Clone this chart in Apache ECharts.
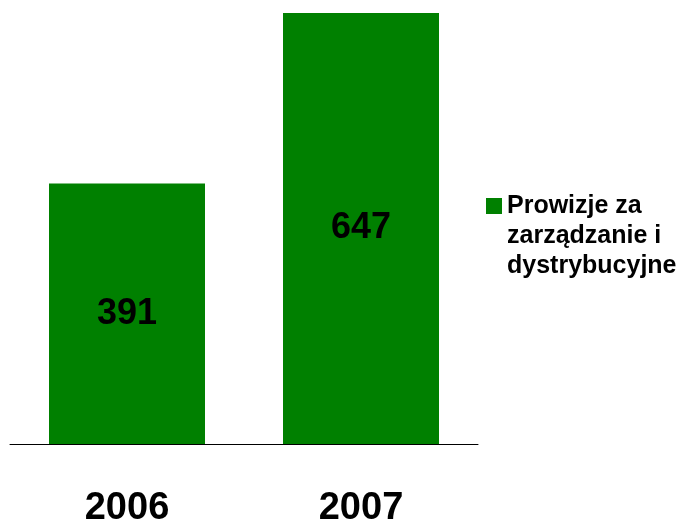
<!DOCTYPE html>
<html>
<head>
<meta charset="utf-8">
<script src="https://cdn.jsdelivr.net/npm/echarts@6/dist/echarts.min.js"></script>
<style>
  html, body { margin: 0; padding: 0; background: #fff; }
  #chart { width: 696px; height: 522px; }
</style>
</head>
<body>
<div id="chart"></div>
<script>
const years = ["2006", "2007"];
const fees = [391, 647];
const seriesName = "Prowizje za\nzarządzanie i\ndystrybucyjne";

const font = "'Liberation Sans', Arial, sans-serif";
const chart = echarts.init(document.getElementById("chart"));

const option = {
    animation: false,
    grid: {
        left: 10,
        right: 218,
        top: 13,
        bottom: 78,
        outerBoundsMode: "none"
    },
    legend: {
        left: 481,
        top: 126,
        icon: "rect",
        itemWidth: 16,
        itemHeight: 16,
        // two blank lines in front so the square sits beside the first line
        formatter: function (name) {
            return " \n \n" + name;
        },
        textStyle: {
            fontFamily: font,
            fontWeight: "bold",
            fontSize: 25,
            lineHeight: 30,
            color: "#000"
        },
        data: [seriesName]
    },
    xAxis: {
        type: "category",
        data: years,
        axisLine: { lineStyle: { color: "#000", width: 1 } },
        axisTick: { show: false },
        axisLabel: {
            margin: 46,
            fontFamily: font,
            fontWeight: "bold",
            fontSize: 38,
            color: "#000"
        }
    },
    yAxis: {
        type: "value",
        min: 0,
        max: 647,
        show: false,
        splitLine: { show: false }
    },
    series: [{
        name: seriesName,
        type: "bar",
        barWidth: 156,
        data: fees,
        itemStyle: { color: "#008000" },
        label: {
            show: true,
            position: "inside",
            fontFamily: font,
            fontWeight: "bold",
            fontSize: 36,
            color: "#000"
        }
    }]
};
chart.setOption(option);
</script>
</body>
</html>
